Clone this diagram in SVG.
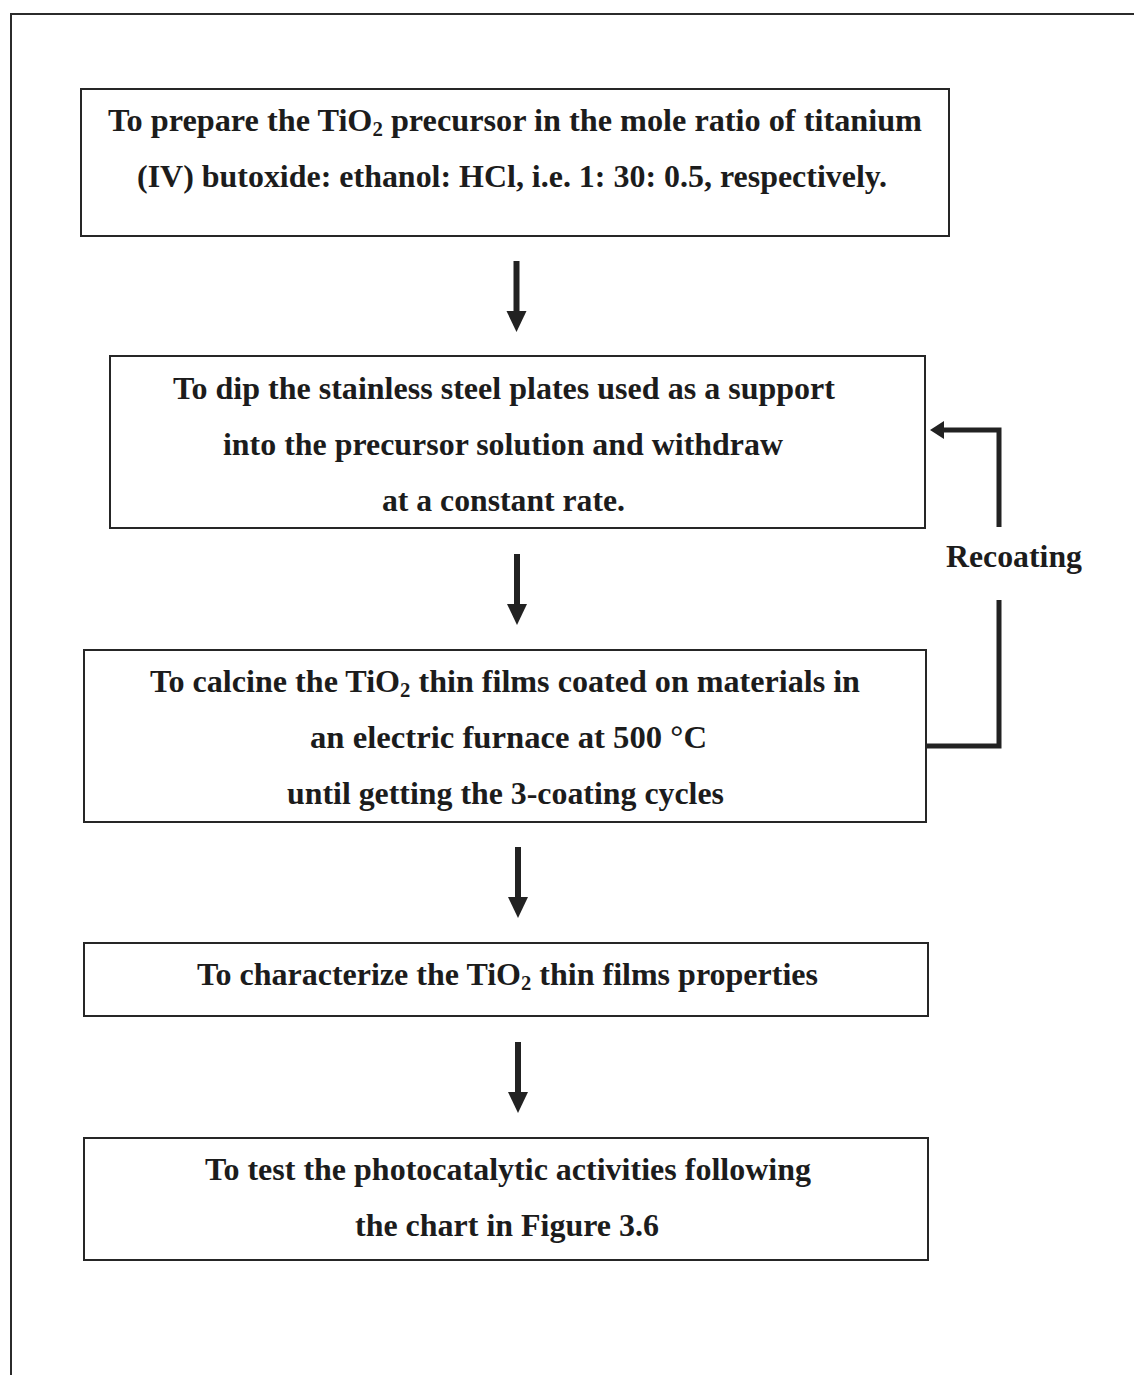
<svg xmlns="http://www.w3.org/2000/svg" width="1134" height="1375" viewBox="0 0 1134 1375">
  <style>
    .frame { fill: none; stroke: #2b2b2b; stroke-width: 2; }
    .box { fill: #ffffff; stroke: #262626; stroke-width: 2; }
    .t { font-family: "Liberation Serif", "Times New Roman", serif; font-weight: bold; font-size: 31px; fill: #1c1c1c; }
    .sub { font-size: 20px; }
    .flow { fill: none; stroke: #222222; stroke-width: 5; }
    .head { fill: #222222; }
  </style>
  <defs>
    <!-- down arrow: shaft plus triangular head, origin at the shaft top centre -->
    <g id="down">
      <rect x="-3" y="0" width="6" height="54" fill="#222222"/>
      <polygon points="-10,50 10,50 0,71" class="head"/>
    </g>
  </defs>

  <rect width="1134" height="1375" fill="#ffffff"/>

  <!-- page frame (top and left edges) -->
  <path class="frame" d="M11,1375 V14 H1134"/>

  <g id="step1">
    <rect class="box" x="81" y="89" width="868" height="147"/>
    <text class="t" x="108" y="131" textLength="814" lengthAdjust="spacingAndGlyphs">To prepare the TiO<tspan class="sub" dy="5">2</tspan><tspan dy="-5"> precursor in the mole ratio of titanium</tspan></text>
    <text class="t" x="137" y="187" textLength="750" lengthAdjust="spacingAndGlyphs">(IV) butoxide: ethanol: HCl, i.e. 1: 30: 0.5, respectively.</text>
  </g>

  <g id="step2">
    <rect class="box" x="110" y="356" width="815" height="172"/>
    <text class="t" x="173" y="399" textLength="662" lengthAdjust="spacingAndGlyphs">To dip the stainless steel plates used as a support</text>
    <text class="t" x="223" y="455" textLength="560" lengthAdjust="spacingAndGlyphs">into the precursor solution and withdraw</text>
    <text class="t" x="382" y="511" textLength="243" lengthAdjust="spacingAndGlyphs">at a constant rate.</text>
  </g>

  <g id="step3">
    <rect class="box" x="84" y="650" width="842" height="172"/>
    <text class="t" x="150" y="692" textLength="710" lengthAdjust="spacingAndGlyphs">To calcine the TiO<tspan class="sub" dy="5">2</tspan><tspan dy="-5"> thin films coated on materials in</tspan></text>
    <text class="t" x="310" y="748" textLength="397" lengthAdjust="spacingAndGlyphs">an electric furnace at 500 °C</text>
    <text class="t" x="287" y="804" textLength="437" lengthAdjust="spacingAndGlyphs">until getting the 3-coating cycles</text>
  </g>

  <g id="step4">
    <rect class="box" x="84" y="943" width="844" height="73"/>
    <text class="t" x="197" y="985" textLength="621" lengthAdjust="spacingAndGlyphs">To characterize the TiO<tspan class="sub" dy="5">2</tspan><tspan dy="-5"> thin films properties</tspan></text>
  </g>

  <g id="step5">
    <rect class="box" x="84" y="1138" width="844" height="122"/>
    <text class="t" x="205" y="1180" textLength="606" lengthAdjust="spacingAndGlyphs">To test the photocatalytic activities following</text>
    <text class="t" x="355" y="1236" textLength="304" lengthAdjust="spacingAndGlyphs">the chart in Figure 3.6</text>
  </g>

  <g id="connectors">
    <use href="#down" x="516.5" y="261"/>
    <use href="#down" x="517" y="554"/>
    <use href="#down" x="518" y="847"/>
    <use href="#down" x="518" y="1042"/>

    <!-- recoating loop from the calcining step back to the dipping step -->
    <path class="flow" d="M927,746 H999 V600"/>
    <path class="flow" d="M999,527 V430 H940"/>
    <polygon class="head" points="930,430 944,421 944,439"/>
    <text class="t" x="946" y="567" textLength="136" lengthAdjust="spacingAndGlyphs">Recoating</text>
  </g>
</svg>
